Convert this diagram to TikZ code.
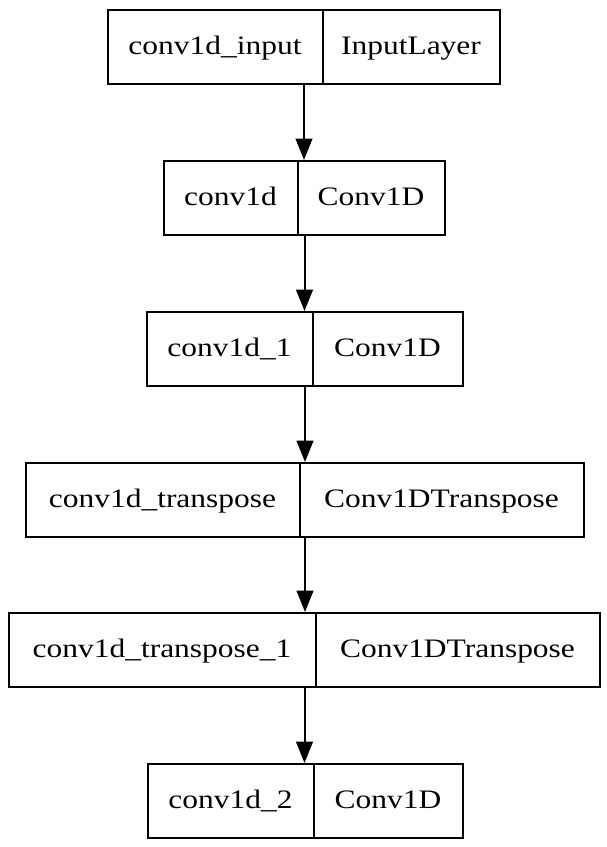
\documentclass[tikz,border=0pt]{standalone}
\usepackage{graphicx}
\usepackage{fontspec}
\setmainfont{Liberation Serif}
\usetikzlibrary{arrows.meta}
\tikzset{
	rec/.style={draw, line width=1.5pt, minimum height=55.5pt, inner sep=0pt},
	lbl/.style={font=\fontsize{20}{24}\selectfont, inner sep=0pt, anchor=base},
	flow/.style={-{Triangle[length=16pt,width=12.5pt]}, line width=1.5pt}
}
% name, top, left, divider, right, layer name, layer class
\newcommand\layer[7]{%
	\node[rec, minimum width={(#5-#3)*0.75pt}, anchor=north west] (#1) at (#3,#2) {};
	\draw[line width=1.5pt] (#4,#2) -- ++(0,74);
	\node[lbl] (#1-name) at ({(#3+#4)/2},{#2+45}) {\scalebox{1.18}[1]{#6}};
	\node[lbl] (#1-class) at ({(#4+#5)/2},{#2+45}) {\scalebox{1.18}[1]{#7}};
}

\begin{document}
\begin{tikzpicture}[x=0.75pt, y=-0.75pt]
	\useasboundingbox (0,0) rectangle (607,847);
	
	%%%%% LAYERS %%%%%
	\layer{input}{9}{107}{323}{499}{conv1d\_input}{InputLayer}
	\layer{conv}{160}{163}{298}{444}{conv1d}{Conv1D}
	\layer{convone}{311}{146}{313}{462}{conv1d\_1}{Conv1D}
	\layer{trans}{462}{25}{300}{583}{conv1d\_transpose}{Conv1DTranspose}
	\layer{transone}{612}{8}{316}{599}{conv1d\_transpose\_1}{Conv1DTranspose}
	\layer{convtwo}{763}{147}{314}{462}{conv1d\_2}{Conv1D}
	
	%%%%% EDGES %%%%%
	\draw[flow] (input.south) -- (input.south |- conv.north);
	\draw[flow] (conv.south) -- (conv.south |- convone.north);
	\draw[flow] (convone.south) -- (convone.south |- trans.north);
	\draw[flow] (trans.south) -- (trans.south |- transone.north);
	\draw[flow] (transone.south) -- (transone.south |- convtwo.north);
\end{tikzpicture}
\end{document}
